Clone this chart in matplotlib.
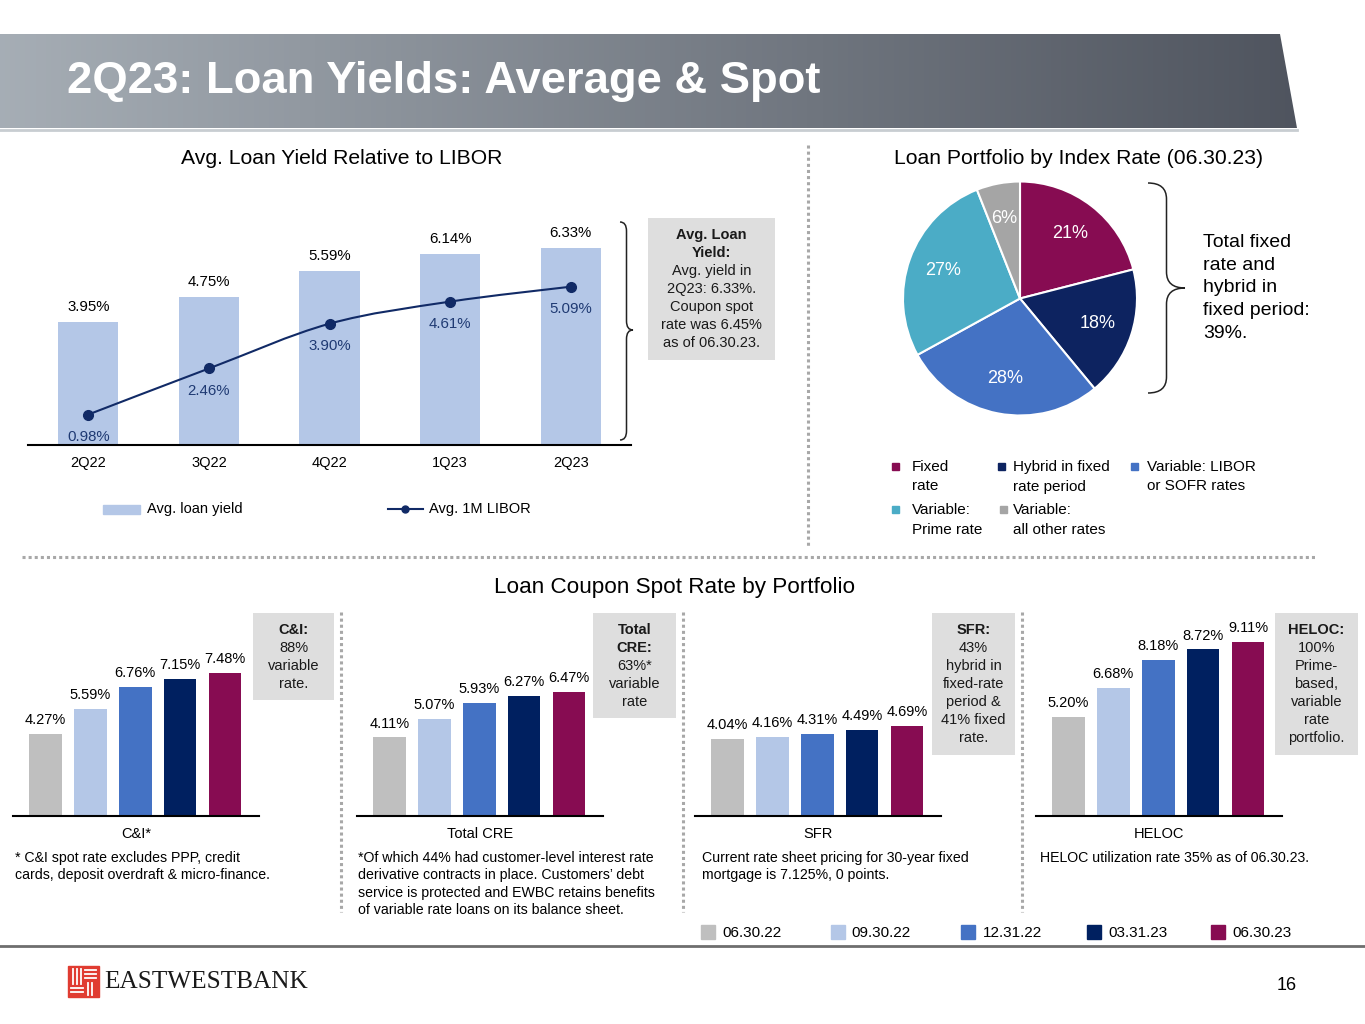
import matplotlib
matplotlib.use("Agg")
import matplotlib.pyplot as plt
import numpy as np
from matplotlib.patches import Rectangle, Polygon, PathPatch
from matplotlib.path import Path

plt.rcParams['font.family'] = ['Liberation Sans', 'DejaVu Sans']

W, H = 1365, 1024

# avg loan yield vs libor
quarters = ["2Q22", "3Q22", "4Q22", "1Q23", "2Q23"]
avg_loan_yield = [3.95, 4.75, 5.59, 6.14, 6.33]
avg_libor = [0.98, 2.46, 3.90, 4.61, 5.09]

# loan portfolio by index rate
index_names = ["Fixed\nrate", "Hybrid in fixed\nrate period", "Variable: LIBOR\nor SOFR rates",
               "Variable:\nPrime rate", "Variable:\nall other rates"]
index_share = [21, 18, 28, 27, 6]
index_colors = ["#870C52", "#0D2360", "#4472C4", "#4BACC6", "#A5A5A5"]

# coupon spot rates
spot_dates = ["06.30.22", "09.30.22", "12.31.22", "03.31.23", "06.30.23"]
spot_colors = ["#BFBFBF", "#B4C7E7", "#4472C4", "#002060", "#870C52"]
portfolios = ["C&I*", "Total CRE", "SFR", "HELOC"]
ci_rates = [4.27, 5.59, 6.76, 7.15, 7.48]
cre_rates = [4.11, 5.07, 5.93, 6.27, 6.47]
sfr_rates = [4.04, 4.16, 4.31, 4.49, 4.69]
heloc_rates = [5.20, 6.68, 8.18, 8.72, 9.11]

footnotes = [
    "* C&I spot rate excludes PPP, credit\ncards, deposit overdraft & micro-finance.",
    "*Of which 44% had customer-level interest rate\nderivative contracts in place. Customers\u2019 debt\n"
    "service is protected and EWBC retains benefits\nof variable rate loans on its balance sheet.",
    "Current rate sheet pricing for 30-year fixed\nmortgage is 7.125%, 0 points.",
    "HELOC utilization rate 35% as of 06.30.23.",
]

fig = plt.figure(figsize=(13.65, 10.24), dpi=100)
bg = fig.add_axes([0, 0, 1, 1], zorder=0)
bg.axis('off')


def px_axes(left, top, right, bottom):
    a = fig.add_axes([left / W, 1 - bottom / H, (right - left) / W, (bottom - top) / H], zorder=2)
    a.patch.set_alpha(0)
    return a


def brace(x, top, bot, mid, w, r):
    xm = x + w / 2
    verts = [(x, top), (xm, top), (xm, top + r), (xm, mid - r), (xm, mid), (x + w, mid),
             (xm, mid), (xm, mid + r), (xm, bot - r), (xm, bot), (x, bot)]
    codes = [Path.MOVETO, Path.CURVE3, Path.CURVE3, Path.LINETO, Path.CURVE3, Path.CURVE3,
             Path.CURVE3, Path.CURVE3, Path.LINETO, Path.CURVE3, Path.CURVE3]
    bg.add_patch(PathPatch(Path(verts, codes), facecolor='none', edgecolor='#222222', lw=1.1))


def smooth_path(xs, ys):
    # catmull-rom through the data points, like a smoothed office line
    p = np.column_stack([xs, ys]).astype(float)
    ext = np.vstack([p[0], p, p[-1]])
    verts = [tuple(p[0])]
    codes = [Path.MOVETO]
    for i in range(len(p) - 1):
        a, b, c, d = ext[i], ext[i + 1], ext[i + 2], ext[i + 3]
        verts += [tuple(b + (c - a) / 6), tuple(c - (d - b) / 6), tuple(c)]
        codes += [Path.CURVE4] * 3
    return Path(verts, codes)


def note_box(x0, y0, x1, y1, bold, normal, first_y, pitch=18):
    bg.add_patch(Rectangle((x0, y0), x1 - x0, y1 - y0, facecolor='#DEDEDE', edgecolor='none'))
    xc = (x0 + x1) / 2
    for i, line in enumerate(bold + normal):
        bg.text(xc, first_y + i * pitch, line, ha='center', va='center', fontsize=10.5,
                weight='bold' if i < len(bold) else 'normal', color='#1a1a1a')


# banner
grad = np.linspace(0, 1, 256)[None, :, None]
c0 = np.array([0.65, 0.68, 0.71])
c1 = np.array([0.31, 0.33, 0.37])
im = bg.imshow(c0 + (c1 - c0) * grad, extent=[0, 1300, 128, 34], aspect='auto', zorder=1)
banner = Polygon([(0, 34), (1280, 34), (1297, 128), (0, 128)], closed=True,
                 facecolor='none', edgecolor='none')
bg.add_patch(banner)
im.set_clip_path(banner)
bg.plot([0, 1297], [129.5, 129.5], color='#C8CDD1', lw=2)
bg.text(67, 82, "2Q23: Loan Yields: Average & Spot", fontsize=32.7, weight='bold',
        color='white', va='center')

bg.set_xlim(0, W)
bg.set_ylim(H, 0)

# section titles
bg.text(342, 158, "Avg. Loan Yield Relative to LIBOR", ha='center', va='center', fontsize=15.2)
bg.text(1078, 158, "Loan Portfolio by Index Rate (06.30.23)", ha='center', va='center', fontsize=15.2)
bg.text(675, 587, "Loan Coupon Spot Rate by Portfolio", ha='center', va='center', fontsize=16.2)

# dotted separators
dots = dict(color='#A8A8A8', lw=2.2, linestyle=(0, (1, 1)))
bg.plot([808, 808], [145, 548], **dots)
bg.plot([22, 1316], [557, 557], **dots)
for xs in [341, 683, 1022]:
    bg.plot([xs, xs], [612, 912], **dots)

# top-left chart
ax1 = px_axes(28, 190, 631, 445)
x = np.arange(len(quarters))
bars = ax1.bar(x, avg_loan_yield, width=0.5, color='#B4C7E7', zorder=2)
ax1.add_patch(PathPatch(smooth_path(x, avg_libor), facecolor='none', edgecolor='#112A66',
                        lw=1.5, zorder=3))
ax1.plot(x, avg_libor, color='#112A66', ls='none', marker='o', ms=7, zorder=4)
ax1.bar_label(bars, labels=[f"{v:.2f}%" for v in avg_loan_yield], padding=6, fontsize=10.8)
for xi, v in zip(x, avg_libor):
    ax1.annotate(f"{v:.2f}%", (xi, v), xytext=(0, -16), textcoords='offset points',
                 ha='center', va='center', fontsize=10.8, color='#1F3A73')
ax1.set_xlim(-0.5, 4.5)
ax1.set_ylim(0, (445 - 190) / 31.1)
ax1.set_xticks(x)
ax1.set_xticklabels(quarters, fontsize=10.5)
ax1.set_yticks([])
ax1.tick_params(axis='x', length=0, pad=8)
for s in ['top', 'right', 'left']:
    ax1.spines[s].set_visible(False)
ax1.spines['bottom'].set_linewidth(1.5)

bg.add_patch(Rectangle((103, 505), 37, 9, color='#B4C7E7'))
bg.text(147, 509, "Avg. loan yield", va='center', fontsize=10.5)
bg.plot([388, 423], [509, 509], color='#112A66', lw=1.5)
bg.plot([405], [509], 'o', color='#112A66', ms=5)
bg.text(429, 509, "Avg. 1M LIBOR", va='center', fontsize=10.5)

brace(620, 222, 440, 330, 13, 9)
note_box(648, 218, 775, 360, ["Avg. Loan", "Yield:"],
         ["Avg. yield in", "2Q23: 6.33%.", "Coupon spot", "rate was 6.45%", "as of 06.30.23."], 235)

# pie
ax2 = px_axes(903, 181.5, 1137, 415.5)
wedges, _, pct = ax2.pie(index_share, colors=index_colors, startangle=90, counterclock=False,
                         autopct='%d%%', pctdistance=0.7,
                         wedgeprops=dict(edgecolor='white', linewidth=1.5),
                         textprops=dict(color='white', fontsize=13))
ax2.set_xlim(-1, 1)
ax2.set_ylim(-1, 1)

brace(1148, 183, 393, 288, 37, 16)
bg.text(1203, 288, "Total fixed\nrate and\nhybrid in\nfixed period:\n39%.", va='center',
        fontsize=14, linespacing=1.44)

leg_pos = [(895, 912, 467), (1001, 1013, 467), (1134, 1147, 467), (895, 912, 510), (1003, 1013, 510)]
for (mx, tx, ty), name, col in zip(leg_pos, index_names, index_colors):
    bg.add_patch(Rectangle((mx - 3.5, ty - 4.5), 7, 7, color=col))
    bg.text(tx, ty - 7, name, va='top', fontsize=11, linespacing=1.5)

# bottom charts
panel_left = [13, 357, 695, 1036]
panel_rates = [ci_rates, cre_rates, sfr_rates, heloc_rates]
for left, rates, name, note, nx in zip(panel_left, panel_rates, portfolios, footnotes,
                                       [15, 358, 702, 1040]):
    ax = px_axes(left, 600, left + 246, 816)
    b = ax.bar(range(5), rates, width=0.72, color=spot_colors, zorder=2)
    ax.bar_label(b, labels=[f"{v:.2f}%" for v in rates], padding=5, fontsize=10.5)
    ax.set_xlim(-0.72, 4.75)
    ax.set_ylim(0, 216 / 19.1)
    ax.set_xticks([])
    ax.set_yticks([])
    for s in ['top', 'right', 'left']:
        ax.spines[s].set_visible(False)
    ax.spines['bottom'].set_linewidth(1.5)
    ax.set_xlabel(name, fontsize=10.5, labelpad=8)
    bg.text(nx, 851, note, va='top', fontsize=10.2, linespacing=1.3)

note_box(253, 613, 334, 700, ["C&I:"], ["88%", "variable", "rate."], 630)
note_box(593, 613, 676, 718, ["Total", "CRE:"], ["63%*", "variable", "rate"], 630)
note_box(932, 613, 1015, 755, ["SFR:"], ["43%", "hybrid in", "fixed-rate", "period &", "41% fixed", "rate."], 630)
note_box(1275, 613, 1358, 755, ["HELOC:"], ["100%", "Prime-", "based,", "variable", "rate", "portfolio."], 630)

leg_x = [(708, 722), (838, 851), (968, 983), (1094, 1108), (1218, 1232)]
for (sx, tx), lab, col in zip(leg_x, spot_dates, spot_colors):
    bg.add_patch(Rectangle((sx - 7, 925), 14, 14, color=col))
    bg.text(tx, 933, lab, va='center', fontsize=11)

# footer
bg.plot([0, W], [946, 946], color='#6E6E6E', lw=2)
bg.add_patch(Rectangle((68, 966), 31, 31, color='#E03C31'))
wl = dict(color='white', lw=1.3)
for xv in [73, 77, 81]:
    bg.plot([xv, xv], [969, 984], **wl)
for yv in [970, 974, 978]:
    bg.plot([85, 96], [yv, yv], **wl)
for yv in [988, 992]:
    bg.plot([71, 83], [yv, yv], **wl)
for xv in [88, 92]:
    bg.plot([xv, xv], [983, 995], **wl)
bg.text(104, 982, "EASTWESTBANK", family=['Liberation Serif', 'DejaVu Serif'],
        fontsize=18.2, va='center', color='#1a1a1a')
bg.text(1287, 986, "16", fontsize=13, ha='center', va='center')

fig.savefig("out.png", dpi=100)
